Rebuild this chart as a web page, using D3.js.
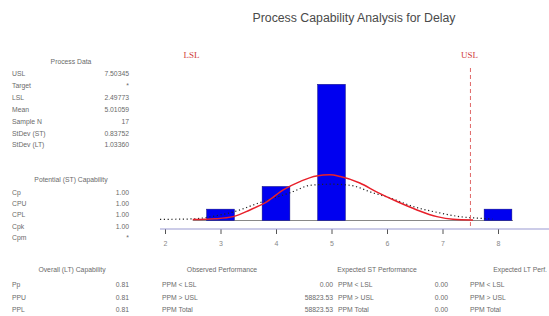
<!DOCTYPE html>
<html><head><meta charset="utf-8">
<script src="https://cdn.jsdelivr.net/npm/d3@7"></script>
<style>body{margin:0;background:#fff}svg{display:block}</style>
</head><body>
<script>
const title = "Process Capability Analysis for Delay";
const binCenters = [3, 4, 5, 8];
const binCounts = [1, 3, 12, 1];
const xTicks = [2, 3, 4, 5, 6, 7, 8];
const LSL = 2.49773, USL = 7.50345;
// fitted (red) curve: x value, height in count units
const fitX = [2.5, 2.9, 3.23, 3.53, 3.84, 4.13, 4.43, 4.73, 4.97, 5.16, 5.51, 5.82, 6.18, 6.54, 6.9, 7.19, 7.55];
const fitY = [0.08, 0.15, 0.34, 0.93, 1.67, 2.7, 3.43, 3.93, 4.02, 3.87, 3.3, 2.5, 1.67, 0.93, 0.34, 0.11, 0.05];
// dotted (black) curve
const dotX = [1.91, 2.5, 2.9, 3.35, 3.59, 4.31, 4.61, 5.0, 5.34, 5.75, 6.05, 6.47, 6.95, 7.31, 7.67, 7.9];
const dotY = [0.1, 0.14, 0.4, 0.93, 1.37, 2.55, 3.1, 3.2, 3.1, 2.43, 2.0, 1.23, 0.67, 0.34, 0.2, 0.12];

const procLabels = ["USL", "Target", "LSL", "Mean", "Sample N", "StDev (ST)", "StDev (LT)"];
const procValues = ["7.50345", "*", "2.49773", "5.01059", "17", "0.83752", "1.03360"];
const potLabels = ["Cp", "CPU", "CPL", "Cpk", "Cpm"];
const potValues = ["1.00", "1.00", "1.00", "1.00", "*"];
const ovLabels = ["Pp", "PPU", "PPL"];
const ovValues = ["0.81", "0.81", "0.81"];
const perfLabels = ["PPM < LSL", "PPM > USL", "PPM Total"];
const obsValues = ["0.00", "58823.53", "58823.53"];
const expSTValues = ["0.00", "0.00", "0.00"];
const expLTValues = ["", "", ""];

const W = 549, H = 316;
const svg = d3.select("body").append("svg").attr("width", W).attr("height", H);
const x = d3.scaleLinear().domain([2, 8]).range([165, 498]);
const y = d3.scaleLinear().domain([0, 12]).range([220.5, 84.3]);
const font = "Liberation Sans, Arial, sans-serif";
const txt = "#6a6a6a";

svg.append("text").attr("x", 354).attr("y", 22).attr("text-anchor", "middle")
  .attr("font-family", font).attr("font-size", 12.3).attr("fill", "#4a4a4a").text(title);

// baseline
svg.append("line").attr("x1", x(2.5)).attr("x2", x(8.27)).attr("y1", y(0)).attr("y2", y(0))
  .attr("stroke", "#888").attr("stroke-width", 1);

// bars
const bw = x(2.5) - x(2);
svg.selectAll("rect.bar").data(binCenters).join("rect").attr("class", "bar")
  .attr("x", d => x(d) - bw / 2).attr("width", bw)
  .attr("y", (d, i) => y(binCounts[i])).attr("height", (d, i) => y(0) - y(binCounts[i]))
  .attr("fill", "#0000f0").attr("stroke", "#10107a").attr("stroke-width", 0.5);

// dotted curve
svg.append("path").datum(dotX.map((d, i) => [d, dotY[i]]))
  .attr("d", d3.line().x(d => x(d[0])).y(d => y(d[1])).curve(d3.curveMonotoneX))
  .attr("fill", "none").attr("stroke", "#222").attr("stroke-width", 1.2).attr("stroke-dasharray", "1.2,2.6");

// fitted curve
svg.append("path").datum(fitX.map((d, i) => [d, fitY[i]]))
  .attr("d", d3.line().x(d => x(d[0])).y(d => y(d[1])).curve(d3.curveMonotoneX))
  .attr("fill", "none").attr("stroke", "#e8202a").attr("stroke-width", 1.5);

// USL line
svg.append("line").attr("x1", x(USL)).attr("x2", x(USL)).attr("y1", 68).attr("y2", 229)
  .attr("stroke", "#e06868").attr("stroke-width", 1).attr("stroke-dasharray", "4,3");
svg.append("text").attr("x", x(LSL) - 1).attr("y", 58).attr("text-anchor", "middle")
  .attr("font-family", "Liberation Serif, Times New Roman, serif").attr("font-size", 9).attr("fill", "#d03a3a").text("LSL");
svg.append("text").attr("x", x(USL) - 1).attr("y", 58).attr("text-anchor", "middle")
  .attr("font-family", "Liberation Serif, Times New Roman, serif").attr("font-size", 9).attr("fill", "#d03a3a").text("USL");

// axis
const axisG = svg.append("g").attr("transform", "translate(0,229)");
const ax = d3.axisBottom(x).tickValues(xTicks).tickFormat(d3.format("d")).tickSize(5).tickSizeOuter(0);
axisG.call(ax);
axisG.select(".domain").remove();
axisG.selectAll(".tick line").attr("stroke", "#555");
axisG.selectAll(".tick text").attr("font-family", font).attr("font-size", 7).attr("fill", "#888").attr("dy", "1.3em");
svg.append("line").attr("x1", 160).attr("x2", 549).attr("y1", 229).attr("y2", 229)
  .attr("stroke", "#9a9ad2").attr("stroke-width", 1.2);

function table(titleText, tx, ty, labels, values, lx, vx, y0, dy, anchor) {
  svg.append("text").attr("x", tx).attr("y", ty).attr("text-anchor", anchor || "middle")
    .attr("font-family", font).attr("font-size", 6.8).attr("fill", txt).text(titleText);
  labels.forEach((l, i) => {
    svg.append("text").attr("x", lx).attr("y", y0 + i * dy).attr("font-family", font)
      .attr("font-size", 6.8).attr("fill", txt).text(l);
    svg.append("text").attr("x", vx).attr("y", y0 + i * dy).attr("text-anchor", "end").attr("font-family", font)
      .attr("font-size", 6.8).attr("fill", txt).text(values[i]);
  });
}
table("Process Data", 71, 64, procLabels, procValues, 12, 129, 76, 11.9);
table("Potential (ST) Capability", 71, 182, potLabels, potValues, 12, 129, 195, 11.2);
table("Overall (LT) Capability", 72, 272, ovLabels, ovValues, 12, 129, 287, 12.5);
table("Observed Performance", 222, 272, perfLabels, obsValues, 162, 333, 287, 12.5);
table("Expected ST Performance", 377, 272, perfLabels, expSTValues, 338, 448, 287, 12.5);
table("Expected LT Perf.", 547, 272, perfLabels, expLTValues, 470, 549, 287, 12.5, "end");
</script>
</body></html>
